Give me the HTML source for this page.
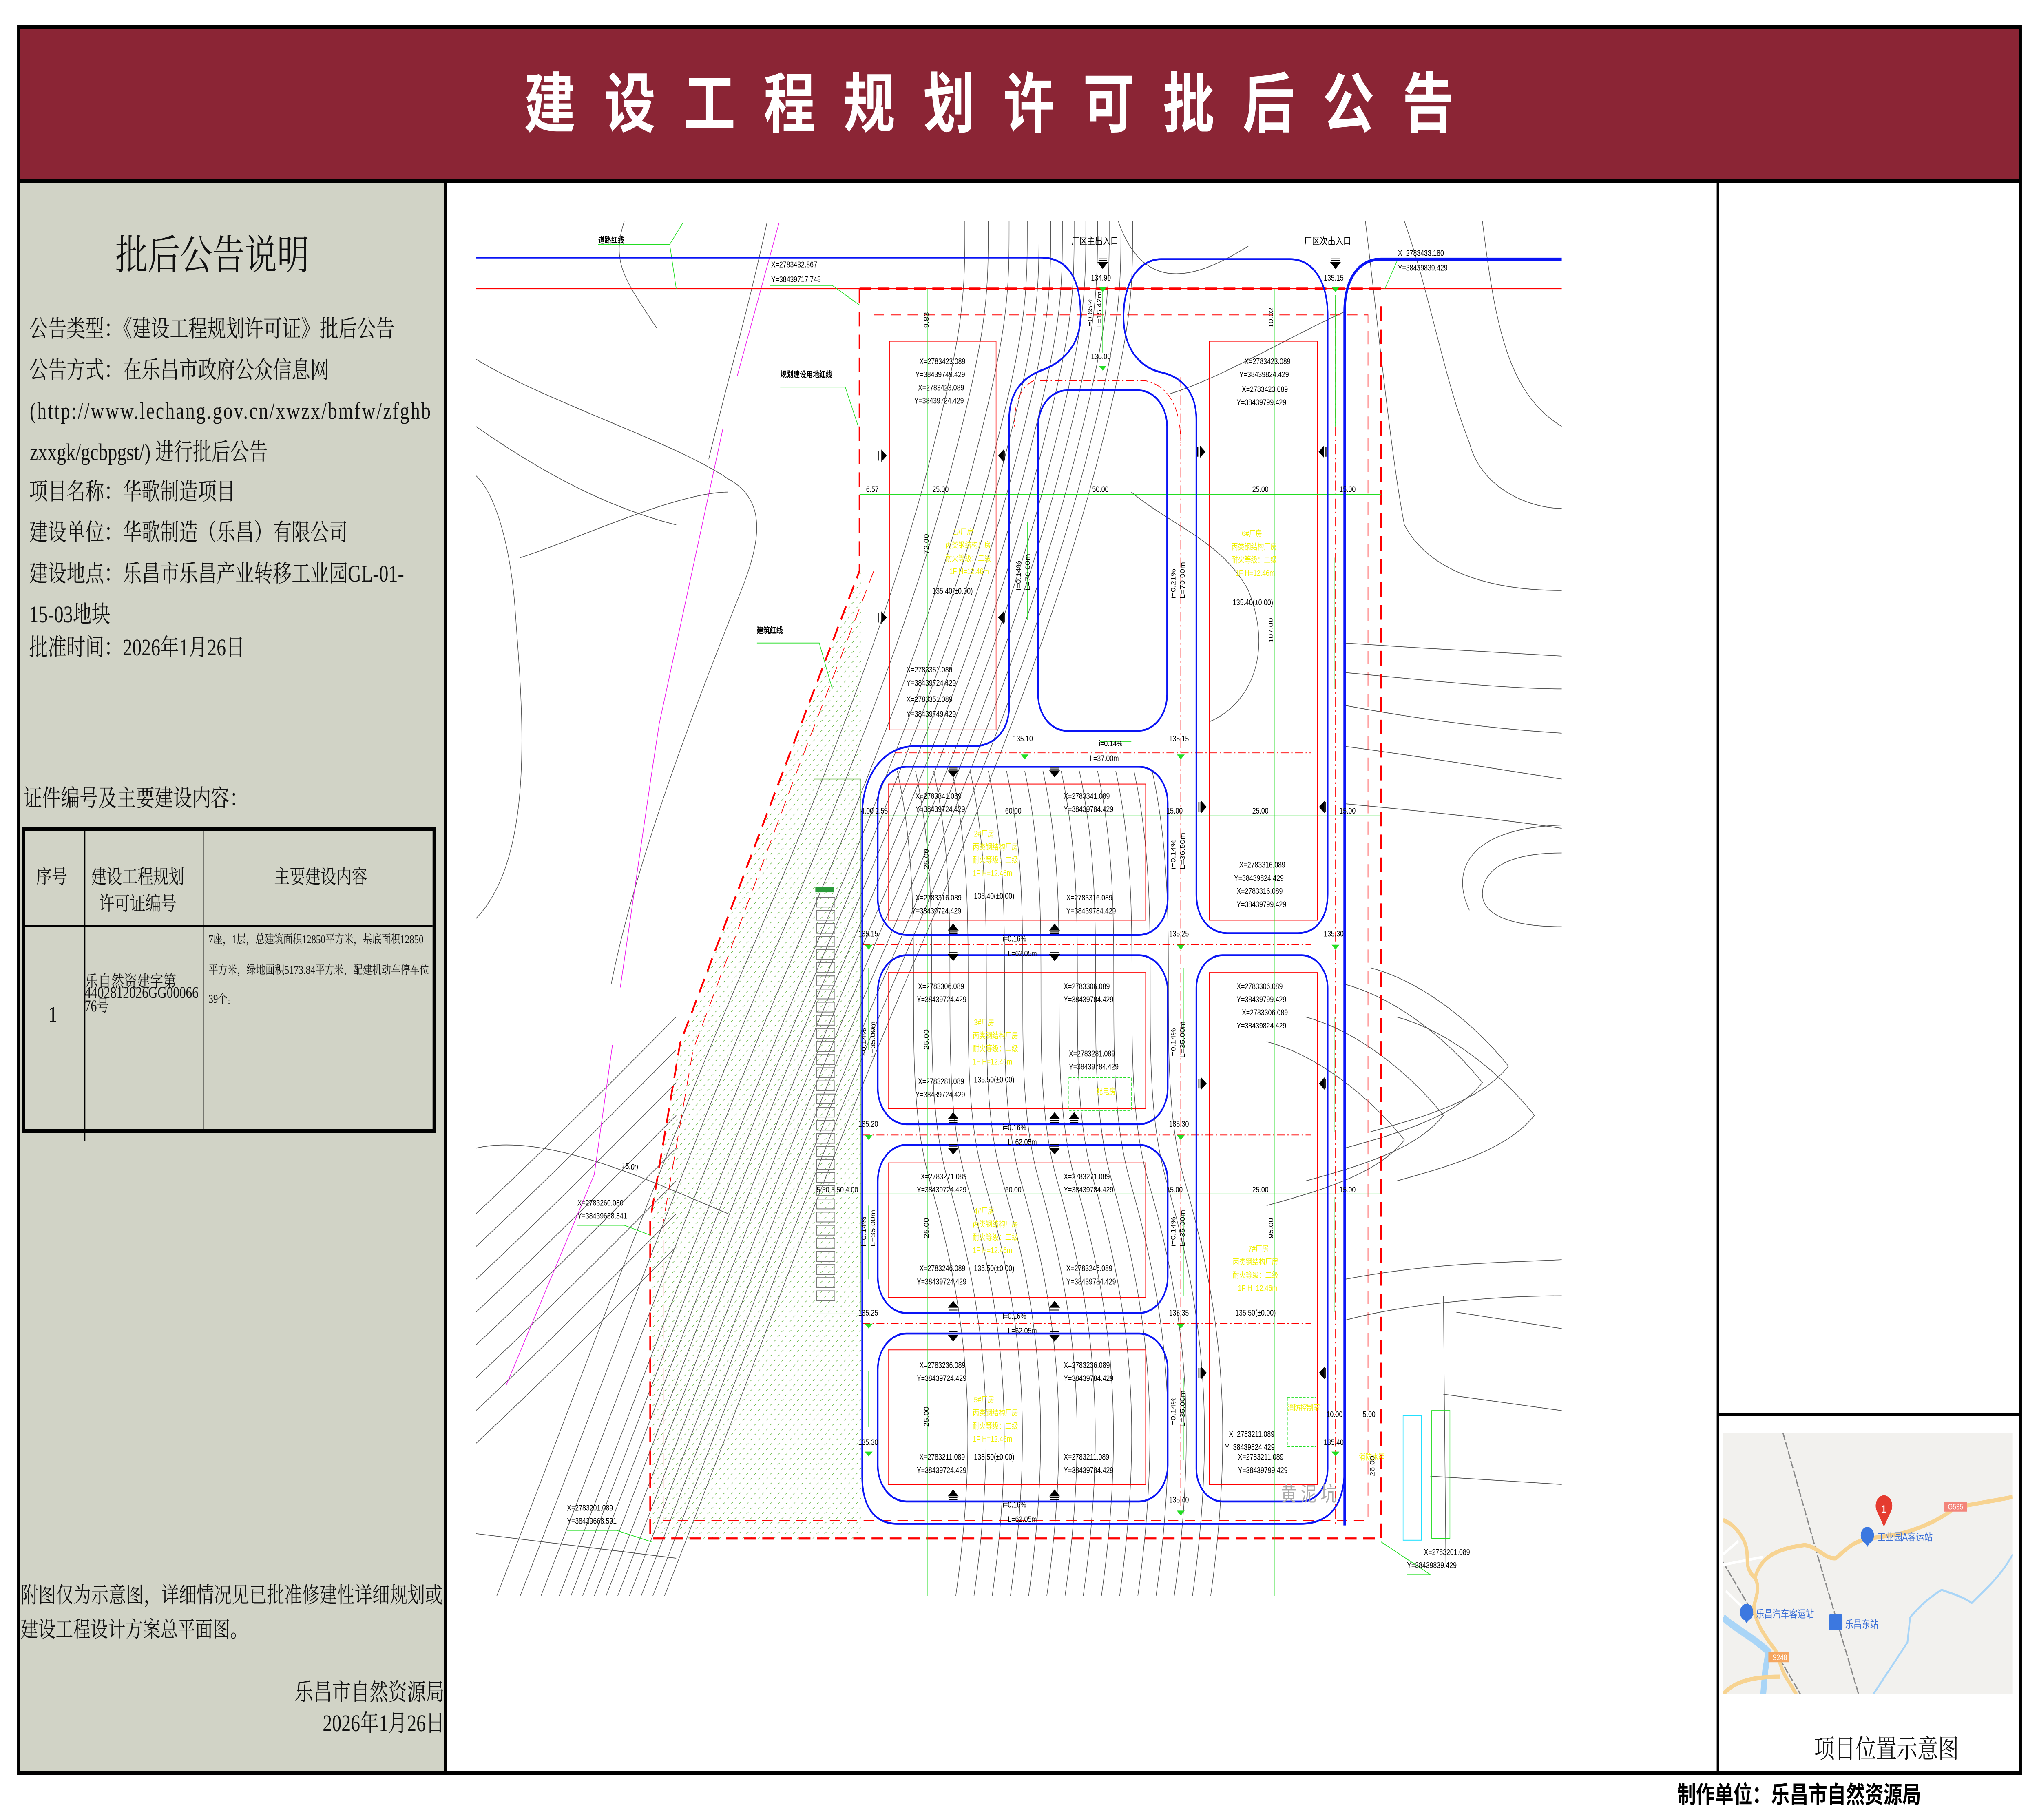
<!DOCTYPE html>
<html><head><meta charset="utf-8">
<style>
html,body{margin:0;padding:0;background:#fff;overflow:hidden;width:100%;height:100%;}
svg.root{display:block;width:100vw;height:100vh;position:absolute;left:0;top:0;}
</style></head><body>
<svg class="root" viewBox="0 0 6307 4463" preserveAspectRatio="none" xmlns="http://www.w3.org/2000/svg" font-family="Liberation Serif,'Noto Serif CJK SC',serif">
<rect width="6307" height="4463" fill="#fff"/>
<rect x="58" y="67" width="6191" height="4280" fill="none" stroke="#000" stroke-width="10"/>
<rect x="63" y="72" width="6181" height="368" fill="#8b2535"/>
<rect x="63" y="440" width="6181" height="9" fill="#000"/>
<text x="1621" y="311" font-family="Liberation Sans,'Noto Sans CJK SC',sans-serif" font-weight="bold" font-size="160" letter-spacing="87" fill="#fff">建设工程规划许可批后公告</text>
<rect x="63" y="449" width="1310" height="3893" fill="#d1d3c6"/>
<rect x="1373" y="449" width="9" height="3893" fill="#000"/>
<rect x="5310" y="449" width="8" height="3893" fill="#000"/>
<rect x="5318" y="3465" width="926" height="8" fill="#000"/>
<g fill="#111">
<text x="357" y="660" font-size="100">批后公告说明</text>
<g font-size="58">
<text x="90" y="826">公告类型：《建设工程规划许可证》批后公告</text>
<text x="90" y="927">公告方式：在乐昌市政府公众信息网</text>
<text x="92" y="1027" textLength="1240" lengthAdjust="spacing">(http://www.lechang.gov.cn/xwzx/bmfw/zfghb</text>
<text x="92" y="1128">zxxgk/gcbpgst/) 进行批后公告</text>
<text x="90" y="1225">项目名称：华歌制造项目</text>
<text x="90" y="1325">建设单位：华歌制造（乐昌）有限公司</text>
<text x="90" y="1426">建设地点：乐昌市乐昌产业转移工业园GL-01-</text>
<text x="90" y="1526">15-03地块</text>
<text x="90" y="1607">批准时间：2026年1月26日</text>
<text x="72" y="1977">证件编号及主要建设内容：</text>
</g>
<rect x="72" y="2034" width="1271" height="740" fill="none" stroke="#000" stroke-width="10"/>
<rect x="77" y="2268" width="1261" height="4" fill="#000"/>
<rect x="261" y="2039" width="3" height="760" fill="#000"/>
<rect x="627" y="2039" width="3" height="730" fill="#000"/>
<g font-size="48">
<text x="112" y="2166">序号</text>
<text x="282" y="2166">建设工程规划</text>
<text x="306" y="2232">许可证编号</text>
<text x="848" y="2166">主要建设内容</text>
</g>
<text x="150" y="2505" font-size="54">1</text>
<g font-size="40">
<text x="263" y="2420" textLength="282" lengthAdjust="spacingAndGlyphs">乐自然资建字第</text>
<text x="262" y="2447" textLength="352" lengthAdjust="spacingAndGlyphs">4402812026GG00066</text>
<text x="262" y="2480" textLength="75" lengthAdjust="spacingAndGlyphs">76号</text>
</g>
<g font-size="29">
<text x="645" y="2313" textLength="665" lengthAdjust="spacingAndGlyphs">7座，1层，总建筑面积12850平方米，基底面积12850</text>
<text x="645" y="2388" textLength="682" lengthAdjust="spacingAndGlyphs">平方米，绿地面积5173.84平方米，配建机动车停车位</text>
<text x="645" y="2459">39个。</text>
</g>
<g font-size="54">
<text x="64" y="3930" textLength="1305" lengthAdjust="spacingAndGlyphs">附图仅为示意图，详细情况见已批准修建性详细规划或</text>
<text x="64" y="4014">建设工程设计方案总平面图。</text>
</g>
<g font-size="58" text-anchor="end">
<text x="1375" y="4169">乐昌市自然资源局</text>
<text x="1375" y="4245">2026年1月26日</text>
</g>
<text x="5611" y="4311" font-size="64">项目位置示意图</text>
<text x="5188" y="4421" font-size="58" font-weight="bold" font-family="Liberation Sans,'Noto Sans CJK SC',sans-serif" fill="#000">制作单位：乐昌市自然资源局</text>
</g>

<svg x="5330" y="3513" width="896" height="642" viewBox="47 98 1396 994" preserveAspectRatio="none">
<rect x="47" y="98" width="1396" height="994" fill="#f2f1ee"/>
<path d="M335 98 L500 560 L700 1092" stroke="#8a8a8a" stroke-width="6" stroke-dasharray="30 8" fill="none"/>
<path d="M47 590 L420 1092" stroke="#8a8a8a" stroke-width="6" stroke-dasharray="30 8" fill="none"/>
<path d="M47 560 L120 510 M47 600 L240 570 M60 700 L140 760" stroke="#fff" stroke-width="10" fill="none"/>
<path d="M47 800 C120 850 200 880 265 930 L250 1000 L240 1092" stroke="#a9d5f7" stroke-width="28" fill="none"/>
<path d="M770 1092 L935 895 L948 800 C1000 750 1050 720 1100 695 C1150 710 1200 720 1245 745 C1300 700 1380 650 1443 560" stroke="#a9d5f7" stroke-width="8" fill="none"/>
<path d="M47 430 C110 450 150 500 160 540 C170 590 150 610 200 650 C230 690 200 730 195 760 C200 820 255 880 300 925 C320 965 330 1010 365 1045 L400 1092" stroke="#f7d391" stroke-width="16" fill="none"/>
<path d="M200 650 C230 570 300 540 440 525 C500 530 540 580 590 575 C640 540 680 510 740 502 L900 482 C1000 462 1100 425 1160 385 C1250 368 1350 358 1443 342" stroke="#f7d391" stroke-width="16" fill="none"/>
<path d="M47 1092 C100 1040 200 1025 320 1025" stroke="#f7d391" stroke-width="16" fill="none"/>
<rect x="1112" y="360" width="110" height="38" fill="#f3857b"/><text x="1130" y="390" font-size="30" fill="#fff" font-family="Liberation Sans,sans-serif">G535</text>
<rect x="265" y="930" width="100" height="40" fill="#f5a660"/><text x="285" y="962" font-size="30" fill="#fff" font-family="Liberation Sans,sans-serif">S248</text>
<path d="M822 455 L790 400 A40 40 0 1 1 854 400 Z" fill="#e53b2f"/><text x="810" y="402" font-size="40" fill="#fff" font-weight="bold" font-family="Liberation Sans,sans-serif">1</text>
<circle cx="742" cy="488" r="32" fill="#3c78e0"/><path d="M730 515 L742 532 L754 515Z" fill="#3c78e0"/>
<text x="790" y="508" font-size="40" fill="#3b6fd6" font-family="Liberation Sans,'Noto Sans CJK SC',sans-serif">工业园A客运站</text>
<circle cx="160" cy="780" r="32" fill="#3c78e0"/><path d="M148 807 L160 822 L172 807Z" fill="#3c78e0"/>
<text x="205" y="800" font-size="40" fill="#3b6fd6" font-family="Liberation Sans,'Noto Sans CJK SC',sans-serif">乐昌汽车客运站</text>
<rect x="556" y="787" width="66" height="62" rx="10" fill="#3c78e0"/>
<text x="635" y="840" font-size="40" fill="#3b6fd6" font-family="Liberation Sans,'Noto Sans CJK SC',sans-serif">乐昌东站</text>
</svg>

<svg x="0" y="0" width="6307" height="4463" viewBox="0 0 1568 1109.6" font-family="Liberation Sans,'Noto Sans CJK SC',sans-serif">
<defs>
<clipPath id="cp"><rect x="366" y="135" width="835" height="838"/></clipPath>
<pattern id="hp" width="6" height="6" patternUnits="userSpaceOnUse"><path d="M1 2 L2.5 1 M4 5 L5.5 4" stroke="#5fb43a" stroke-width="0.35"/></pattern>
<path id="c1" d="M430 973 C500 830 560 700 620 590 C680 480 730 380 760 290 S 790 180 790 135" fill="none"/>
<path id="c2" d="M690 470 C715 560 690 650 715 720 S 755 860 735 973" fill="none"/>
<path id="c3" d="M1034 600 C1080 610 1120 640 1140 660 C1120 680 1080 690 1034 700" fill="none"/>
<path id="c4" d="M366 880 C420 840 470 800 520 760" fill="none"/>
<path id="ar" d="M0 -3.2 L3.6 0 L0 3.2Z M-1.2 -3 V3 M-2.2 -3 V3"/>
<path id="ad" d="M-3.6 0 L3.6 0 L0 3.6Z M-3.2 -1.2 H3.2 M-3.2 -2.2 H3.2"/>
<path id="gt" d="M-3 -3 L3 -3 L0 0Z" fill="#22dd22"/>
</defs>
<g clip-path="url(#cp)">
<polygon points="661,348 598,479 523,636 500,744 500,938 662,938 662,348" fill="url(#hp)"/>
<g stroke="#555" stroke-width="0.45" fill="none">
<use href="#c1"/><use href="#c1" transform="translate(9,0)"/><use href="#c1" transform="translate(18,0)"/><use href="#c1" transform="translate(27,0)"/><use href="#c1" transform="translate(36,0)"/><use href="#c1" transform="translate(45,0)"/><use href="#c1" transform="translate(54,0)"/><use href="#c1" transform="translate(63,0)"/><use href="#c1" transform="translate(72,0)"/><use href="#c1" transform="translate(81,0)"/><use href="#c1" transform="translate(-14,0)"/><use href="#c1" transform="translate(-30,0)"/><use href="#c1" transform="translate(-48,0)"/>
<use href="#c2"/><use href="#c2" transform="translate(14,0)"/><use href="#c2" transform="translate(28,0)"/><use href="#c2" transform="translate(42,0)"/><use href="#c2" transform="translate(56,0)"/><use href="#c2" transform="translate(70,0)"/><use href="#c2" transform="translate(84,0)"/><use href="#c2" transform="translate(98,0)"/><use href="#c2" transform="translate(112,0)"/><use href="#c2" transform="translate(126,0)"/><use href="#c2" transform="translate(140,0)"/><use href="#c2" transform="translate(154,0)"/><use href="#c2" transform="translate(168,0)"/><use href="#c2" transform="translate(182,0)"/><use href="#c2" transform="translate(196,0)"/>
<use href="#c3"/><use href="#c3" transform="translate(20,-10)"/><use href="#c3" transform="translate(-30,20)"/><use href="#c3" transform="translate(40,20)"/><use href="#c3" transform="translate(-60,35)"/>
<use href="#c4"/><use href="#c4" transform="translate(0,-20)"/><use href="#c4" transform="translate(0,-40)"/><use href="#c4" transform="translate(0,-60)"/><use href="#c4" transform="translate(0,-80)"/><use href="#c4" transform="translate(0,-100)"/><use href="#c4" transform="translate(0,-120)"/><use href="#c4" transform="translate(0,-140)"/>
<path d="M366 219 C420 245 520 270 560 292 C590 305 585 330 570 360 C540 420 490 520 470 600"/>
<path d="M366 290 C380 300 392 330 396 370 C400 420 415 520 366 560"/>
<path d="M366 700 C420 690 500 720 560 740 M366 935 C420 940 470 945 520 950"/>
<path d="M505 200 C480 170 470 160 480 135 M590 135 C575 190 560 230 545 280"/>
<path d="M860 135 C880 180 920 170 960 150 M900 240 C940 230 980 210 1034 190 M870 300 C900 320 940 330 960 360 C980 400 960 430 930 440"/>
<path d="M1034 392 C1090 395 1150 398 1201 400 M1034 410 C1100 415 1160 420 1201 420 M1034 430 C1100 440 1160 445 1201 447 M1034 455 C1100 462 1160 470 1201 475 M1034 490 C1100 495 1160 500 1201 505"/>
<path d="M1201 520 C1160 520 1140 530 1140 545 C1140 560 1170 565 1201 565 M1201 503 C1130 505 1115 530 1130 555"/>
<path d="M1080 135 C1100 180 1110 230 1130 270 C1140 300 1180 310 1201 310 M1140 135 C1150 200 1160 240 1201 260 M1050 135 C1060 200 1070 280 1080 320 C1100 350 1150 360 1201 360"/>
<path d="M1034 780 C1100 770 1150 770 1201 768 M1034 805 C1080 795 1150 790 1201 790 M1110 790 L1112 960 M1120 800 L1201 810 M1110 850 L1201 860 M1100 900 L1201 905"/>
<path d="M400 340 C440 330 520 300 560 300 M366 260 C420 290 470 310 520 320"/>
</g>
<path d="M599 136 L567 229 M556 261 L507 441 L501 472 L477 602 M471 637 L457 716 L389 845" stroke="#ee22ee" stroke-width="0.5" fill="none"/>
<rect x="626" y="475" width="36" height="326" fill="none" stroke="#5fb43a" stroke-width="0.4"/>
<g fill="none" stroke="#777" stroke-width="0.5">
<path d="M628 547 h14 v6 h-14z M628 555 h14 v6 h-14z M628 563 h14 v6 h-14z M628 571 h14 v6 h-14z M628 579 h14 v6 h-14z M628 587 h14 v6 h-14z M628 595 h14 v6 h-14z M628 603 h14 v6 h-14z M628 611 h14 v6 h-14z M628 619 h14 v6 h-14z M628 627 h14 v6 h-14z M628 635 h14 v6 h-14z M628 643 h14 v6 h-14z M628 651 h14 v6 h-14z M628 659 h14 v6 h-14z M628 667 h14 v6 h-14z M628 675 h14 v6 h-14z M628 683 h14 v6 h-14z M628 691 h14 v6 h-14z M628 699 h14 v6 h-14z M628 707 h14 v6 h-14z M628 715 h14 v6 h-14z M628 723 h14 v6 h-14z M628 731 h14 v6 h-14z M628 739 h14 v6 h-14z M628 747 h14 v6 h-14z M628 755 h14 v6 h-14z M628 763 h14 v6 h-14z M628 771 h14 v6 h-14z M628 779 h14 v6 h-14z M628 787 h14 v6 h-14z"/>
</g>
<rect x="627" y="541" width="14" height="3" fill="#2a9a3a"/>
<path d="M366 176 H1201" stroke="#f00" stroke-width="0.6"/>
<path d="M661 176 V348 L598 479 L523 636 L500 744 V938 H1062 V183 M661 176 H1062" stroke="#f00" stroke-width="1.3" stroke-dasharray="9 5" fill="none"/>
<path d="M672 192 V348 L612 472 L533 640 L510 745 V927 H1052 V192 H672" stroke="#f00" stroke-width="0.5" stroke-dasharray="8 5" fill="none"/>
<g stroke="#f00" stroke-width="0.5" fill="none">
<rect x="684" y="208" width="82" height="237"/><rect x="930" y="208" width="83" height="353"/>
<rect x="683" y="478" width="198" height="83"/><rect x="683" y="593" width="198" height="83"/><rect x="683" y="709" width="198" height="82"/><rect x="683" y="823" width="198" height="82"/><rect x="930" y="593" width="83" height="312"/>
</g>
<path d="M688 459 H1008 M663 576 H1008 M663 692 H1008 M663 807 H1008 M908 230 V920 M1027 183 V930 M795 232 C785 236 780 245 780 260 M800 232 H880 C900 235 908 250 908 270" stroke="#f00" stroke-width="0.45" stroke-dasharray="6 2 1 2" fill="none"/>
<g stroke="#22dd22" stroke-width="0.45" fill="none">
<path d="M713.5 176 V975 M980.4 176 V975 M661 301.5 H1062 M662 497.4 H1062 M625 727.9 H1062"/>
<path d="M460 149 H515 L525 136 M515 149 L520 176 M592 174 H640 L661 186 M1075 158 H1130 M1075 158 L1065 176 M600 236 H650 L660 260 M582 392 H630 L640 420 M444 747 H480 L500 753 M436 933 H474 L501 940 M1082 960 H1100 L1062 940"/>
<path d="M848 178 V215 M1027 180 V260 M790 318 V378 M846 452 H870 M1026 340 V420 M668 590 V640 M910 590 V640 M1026 620 V690 M668 735 V780 M910 740 V790 M1026 730 V800 M668 836 V870 M910 840 V890"/>
<rect x="1101" y="860" width="14" height="78"/>
</g>
<rect x="1079" y="863" width="14" height="76" fill="none" stroke="#22e0ff" stroke-width="0.5"/>
<g stroke="#0a14f5" stroke-width="1.15" fill="none">
<path d="M366 157 H800 C825 157 831 175 831 192 C831 212 815 222 800 226 C785 231 776 240 776 256 V431 C776 445 765 455 748 455 H703 C680 455 663 472 663 497 V900 C663 918 672 929 690 929 H1000 C1025 929 1034 915 1034 895"/>
<path d="M1021 545 V192 C1021 172 1010 158 992 158 H893 C876 158 864 172 864 193 C864 212 876 224 893 227 C910 230 920 240 920 256 V545 C920 560 930 569 945 569 H997 C1012 569 1021 560 1021 545"/>
<rect x="675" y="467.5" width="223" height="102.5" rx="22"/>
<rect x="675" y="582.4" width="223" height="103" rx="22"/>
<rect x="675" y="698" width="223" height="102.5" rx="22"/>
<rect x="675" y="813" width="223" height="102.4" rx="22"/>
<rect x="920" y="582.4" width="101" height="333" rx="20"/>
<rect x="798.3" y="238" width="99.2" height="207.5" rx="22"/>
</g>
<path d="M1034 930 V190 C1034 170 1045 158 1062 158 H1201" stroke="#0a14f5" stroke-width="1.8" fill="none"/>
<g fill="#000" stroke="#000" stroke-width="0.5">
<use href="#ar" transform="translate(678,277.8)"/><use href="#ar" transform="translate(678,376.5)"/>
<use href="#ar" transform="translate(771.5,277.8) scale(-1,1)"/><use href="#ar" transform="translate(771.5,376.5) scale(-1,1)"/>
<use href="#ar" transform="translate(923,275.4)"/><use href="#ar" transform="translate(1018,275.4) scale(-1,1)"/>
<use href="#ar" transform="translate(924,492)"/><use href="#ar" transform="translate(924,660.6)"/><use href="#ar" transform="translate(924,837)"/>
<use href="#ar" transform="translate(1018.3,492) scale(-1,1)"/><use href="#ar" transform="translate(1018.3,660.6) scale(-1,1)"/><use href="#ar" transform="translate(1018.3,837) scale(-1,1)"/>
<use href="#ad" transform="translate(848,160)"/><use href="#ad" transform="translate(1027,160)"/>
<use href="#ad" transform="translate(733,470)"/><use href="#ad" transform="translate(811,470)"/>
<use href="#ad" transform="translate(733,567) scale(1,-1)"/><use href="#ad" transform="translate(811,567) scale(1,-1)"/>
<use href="#ad" transform="translate(733,582)"/><use href="#ad" transform="translate(811,582)"/>
<use href="#ad" transform="translate(733,682) scale(1,-1)"/><use href="#ad" transform="translate(811,682) scale(1,-1)"/><use href="#ad" transform="translate(826,682) scale(1,-1)"/>
<use href="#ad" transform="translate(733,700)"/><use href="#ad" transform="translate(811,700)"/>
<use href="#ad" transform="translate(733,797) scale(1,-1)"/><use href="#ad" transform="translate(811,797) scale(1,-1)"/>
<use href="#ad" transform="translate(733,814)"/><use href="#ad" transform="translate(811,814)"/>
<use href="#ad" transform="translate(733,912) scale(1,-1)"/><use href="#ad" transform="translate(811,912) scale(1,-1)"/>
</g>
<g>
<use href="#gt" transform="translate(848,178)"/><use href="#gt" transform="translate(848,226)"/><use href="#gt" transform="translate(1027,178)"/>
<use href="#gt" transform="translate(788,463)"/><use href="#gt" transform="translate(908,463)"/>
<use href="#gt" transform="translate(668,579)"/><use href="#gt" transform="translate(908,579)"/><use href="#gt" transform="translate(1027,579)"/>
<use href="#gt" transform="translate(668,695)"/><use href="#gt" transform="translate(908,695)"/>
<use href="#gt" transform="translate(668,810)"/><use href="#gt" transform="translate(908,810)"/>
<use href="#gt" transform="translate(668,888)"/><use href="#gt" transform="translate(908,924)"/><use href="#gt" transform="translate(1027,888)"/>
</g>
<g font-size="5" fill="#000">
<text x="460" y="148" font-weight="bold">道路红线</text>
<text x="824" y="149" font-size="6">厂区主出入口</text>
<text x="1003" y="149" font-size="6">厂区次出入口</text>
<text x="600" y="230" font-weight="bold">规划建设用地红线</text>
<text x="582" y="386" font-weight="bold">建筑红线</text>
<text x="593" y="163">X=2783432.867</text><text x="593" y="172">Y=38439717.748</text>
<text x="1075" y="156">X=2783433.180</text><text x="1075" y="165">Y=38439839.429</text>
<text x="707" y="222">X=2783423.089</text><text x="704" y="230">Y=38439749.429</text><text x="706" y="238">X=2783423.089</text><text x="703" y="246">Y=38439724.429</text>
<text x="697" y="410">X=2783351.089</text><text x="697" y="418">Y=38439724.429</text><text x="697" y="428">X=2783351.089</text><text x="697" y="437">Y=38439749.429</text>
<text x="957" y="222">X=2783423.089</text><text x="953" y="230">Y=38439824.429</text><text x="955" y="239">X=2783423.089</text><text x="951" y="247">Y=38439799.429</text>
<text x="704" y="487">X=2783341.089</text><text x="704" y="495">Y=38439724.429</text><text x="818" y="487">X=2783341.089</text><text x="818" y="495">Y=38439784.429</text>
<text x="704" y="549">X=2783316.089</text><text x="701" y="557">Y=38439724.429</text><text x="820" y="549">X=2783316.089</text><text x="820" y="557">Y=38439784.429</text>
<text x="706" y="603">X=2783306.089</text><text x="705" y="611">Y=38439724.429</text><text x="818" y="603">X=2783306.089</text><text x="818" y="611">Y=38439784.429</text>
<text x="706" y="661">X=2783281.089</text><text x="704" y="669">Y=38439724.429</text><text x="822" y="644">X=2783281.089</text><text x="822" y="652">Y=38439784.429</text>
<text x="708" y="719">X=2783271.089</text><text x="705" y="727">Y=38439724.429</text><text x="818" y="719">X=2783271.089</text><text x="818" y="727">Y=38439784.429</text>
<text x="707" y="775">X=2783246.089</text><text x="705" y="783">Y=38439724.429</text><text x="820" y="775">X=2783246.089</text><text x="820" y="783">Y=38439784.429</text>
<text x="707" y="834">X=2783236.089</text><text x="705" y="842">Y=38439724.429</text><text x="818" y="834">X=2783236.089</text><text x="818" y="842">Y=38439784.429</text>
<text x="707" y="890">X=2783211.089</text><text x="705" y="898">Y=38439724.429</text><text x="818" y="890">X=2783211.089</text><text x="818" y="898">Y=38439784.429</text>
<text x="953" y="529">X=2783316.089</text><text x="949" y="537">Y=38439824.429</text><text x="951" y="545">X=2783316.089</text><text x="951" y="553">Y=38439799.429</text>
<text x="951" y="603">X=2783306.089</text><text x="951" y="611">Y=38439799.429</text><text x="955" y="619">X=2783306.089</text><text x="951" y="627">Y=38439824.429</text>
<text x="945" y="876">X=2783211.089</text><text x="942" y="884">Y=38439824.429</text><text x="952" y="890">X=2783211.089</text><text x="952" y="898">Y=38439799.429</text>
<text x="444" y="735">X=2783260.080</text><text x="444" y="743">Y=38439668.541</text>
<text x="436" y="921">X=2783201.089</text><text x="436" y="929">Y=38439668.591</text>
<text x="1095" y="948">X=2783201.089</text><text x="1082" y="956">Y=38439839.429</text>
<text x="666" y="300">6.57</text><text x="717" y="300">25.00</text><text x="840" y="300">50.00</text><text x="963" y="300">25.00</text><text x="1030" y="300">15.00</text>
<text x="662" y="496">4.00 2.55</text><text x="773" y="496">60.00</text><text x="897" y="496">15.00</text><text x="963" y="496">25.00</text><text x="1030" y="496">15.00</text>
<text x="628" y="727">5.50  5.50  4.00</text><text x="773" y="727">60.00</text><text x="897" y="727">15.00</text><text x="963" y="727">25.00</text><text x="1030" y="727">15.00</text>
<text x="478" y="712" transform="rotate(8 478 712)">15.00</text>
<text x="839" y="171">134.90</text><text x="839" y="219">135.00</text><text x="1018" y="171">135.15</text>
<text x="779" y="452">135.10</text><text x="899" y="452">135.15</text>
<text x="660" y="571">135.15</text><text x="899" y="571">135.25</text><text x="1018" y="571">135.30</text>
<text x="660" y="687">135.20</text><text x="899" y="687">135.30</text>
<text x="660" y="802">135.25</text><text x="899" y="802">135.35</text>
<text x="660" y="881">135.30</text><text x="899" y="916">135.40</text><text x="1018" y="881">135.40</text>
<text x="845" y="455">i=0.14%</text><text x="838" y="464">L=37.00m</text>
<text x="771" y="574">i=0.16%</text><text x="775" y="583">L=62.05m</text>
<text x="771" y="689">i=0.16%</text><text x="775" y="698">L=62.05m</text>
<text x="771" y="804">i=0.16%</text><text x="775" y="813">L=62.05m</text>
<text x="771" y="919">i=0.16%</text><text x="775" y="928">L=62.05m</text>
<text x="1048" y="864">5.00</text><text x="1020" y="864">10.00</text>
<g transform="rotate(-90)">
<text x="-200" y="714">9.83</text><text x="-338" y="714">72.00</text><text x="-200" y="979">10.02</text><text x="-392" y="979">107.00</text>
<text x="-360" y="785">i=0.14%</text><text x="-360" y="792">L=70.00m</text>
<text x="-365" y="904">i=0.21%</text><text x="-365" y="911">L=70.00m</text>
<text x="-200" y="840">i=0.65%</text><text x="-200" y="847">L=15.42m</text>
<text x="-530" y="904">i=0.14%</text><text x="-530" y="911">L=36.50m</text>
<text x="-645" y="666">i=0.14%</text><text x="-645" y="673">L=35.00m</text>
<text x="-645" y="904">i=0.14%</text><text x="-645" y="911">L=35.00m</text>
<text x="-760" y="666">i=0.14%</text><text x="-760" y="673">L=35.00m</text>
<text x="-760" y="904">i=0.14%</text><text x="-760" y="911">L=35.00m</text>
<text x="-870" y="904">i=0.14%</text><text x="-870" y="911">L=35.00m</text>
<text x="-900" y="1057">26.00</text>
<text x="-530" y="714">25.00</text><text x="-640" y="714">25.00</text><text x="-755" y="714">25.00</text><text x="-870" y="714">25.00</text>
<text x="-755" y="979">95.00</text>
</g>
</g>
<g font-size="5" fill="#f0f000">
<text x="733" y="326">1#厂房</text><text x="727" y="334">丙类钢结构厂房</text><text x="727" y="342">耐火等级：二级</text><text x="730" y="350">1F  H=12.46m</text>
<text x="955" y="327">6#厂房</text><text x="947" y="335">丙类钢结构厂房</text><text x="947" y="343">耐火等级：二级</text><text x="950" y="351">1F  H=12.46m</text>
<text x="749" y="510">2#厂房</text><text x="748" y="518">丙类钢结构厂房</text><text x="748" y="526">耐火等级：二级</text><text x="748" y="534">1F  H=12.46m</text>
<text x="749" y="625">3#厂房</text><text x="748" y="633">丙类钢结构厂房</text><text x="748" y="641">耐火等级：二级</text><text x="748" y="649">1F  H=12.46m</text>
<text x="749" y="740">4#厂房</text><text x="748" y="748">丙类钢结构厂房</text><text x="748" y="756">耐火等级：二级</text><text x="748" y="764">1F  H=12.46m</text>
<text x="749" y="855">5#厂房</text><text x="748" y="863">丙类钢结构厂房</text><text x="748" y="871">耐火等级：二级</text><text x="748" y="879">1F  H=12.46m</text>
<text x="960" y="763">7#厂房</text><text x="948" y="771">丙类钢结构厂房</text><text x="948" y="779">耐火等级：二级</text><text x="952" y="787">1F  H=12.46m</text>
<text x="843" y="667">配电房</text><text x="990" y="860">消防控制室</text><text x="1045" y="890">消防水箱</text>
</g>
<g font-size="5" fill="#000">
<text x="717" y="362">135.40(±0.00)</text><text x="948" y="369">135.40(±0.00)</text>
<text x="749" y="548">135.40(±0.00)</text><text x="749" y="660">135.50(±0.00)</text><text x="749" y="775">135.50(±0.00)</text><text x="749" y="890">135.50(±0.00)</text><text x="950" y="802">135.50(±0.00)</text>
</g>
<rect x="822" y="657" width="48" height="20" fill="none" stroke="#22dd22" stroke-width="0.4" stroke-dasharray="2 1"/>
<rect x="990" y="852" width="22" height="30" fill="none" stroke="#22dd22" stroke-width="0.4" stroke-dasharray="2 1"/>
<text x="985" y="915" font-size="12" fill="#aaa">黄  泥  坑</text>
</g>
</svg>
</svg>
</body></html>
